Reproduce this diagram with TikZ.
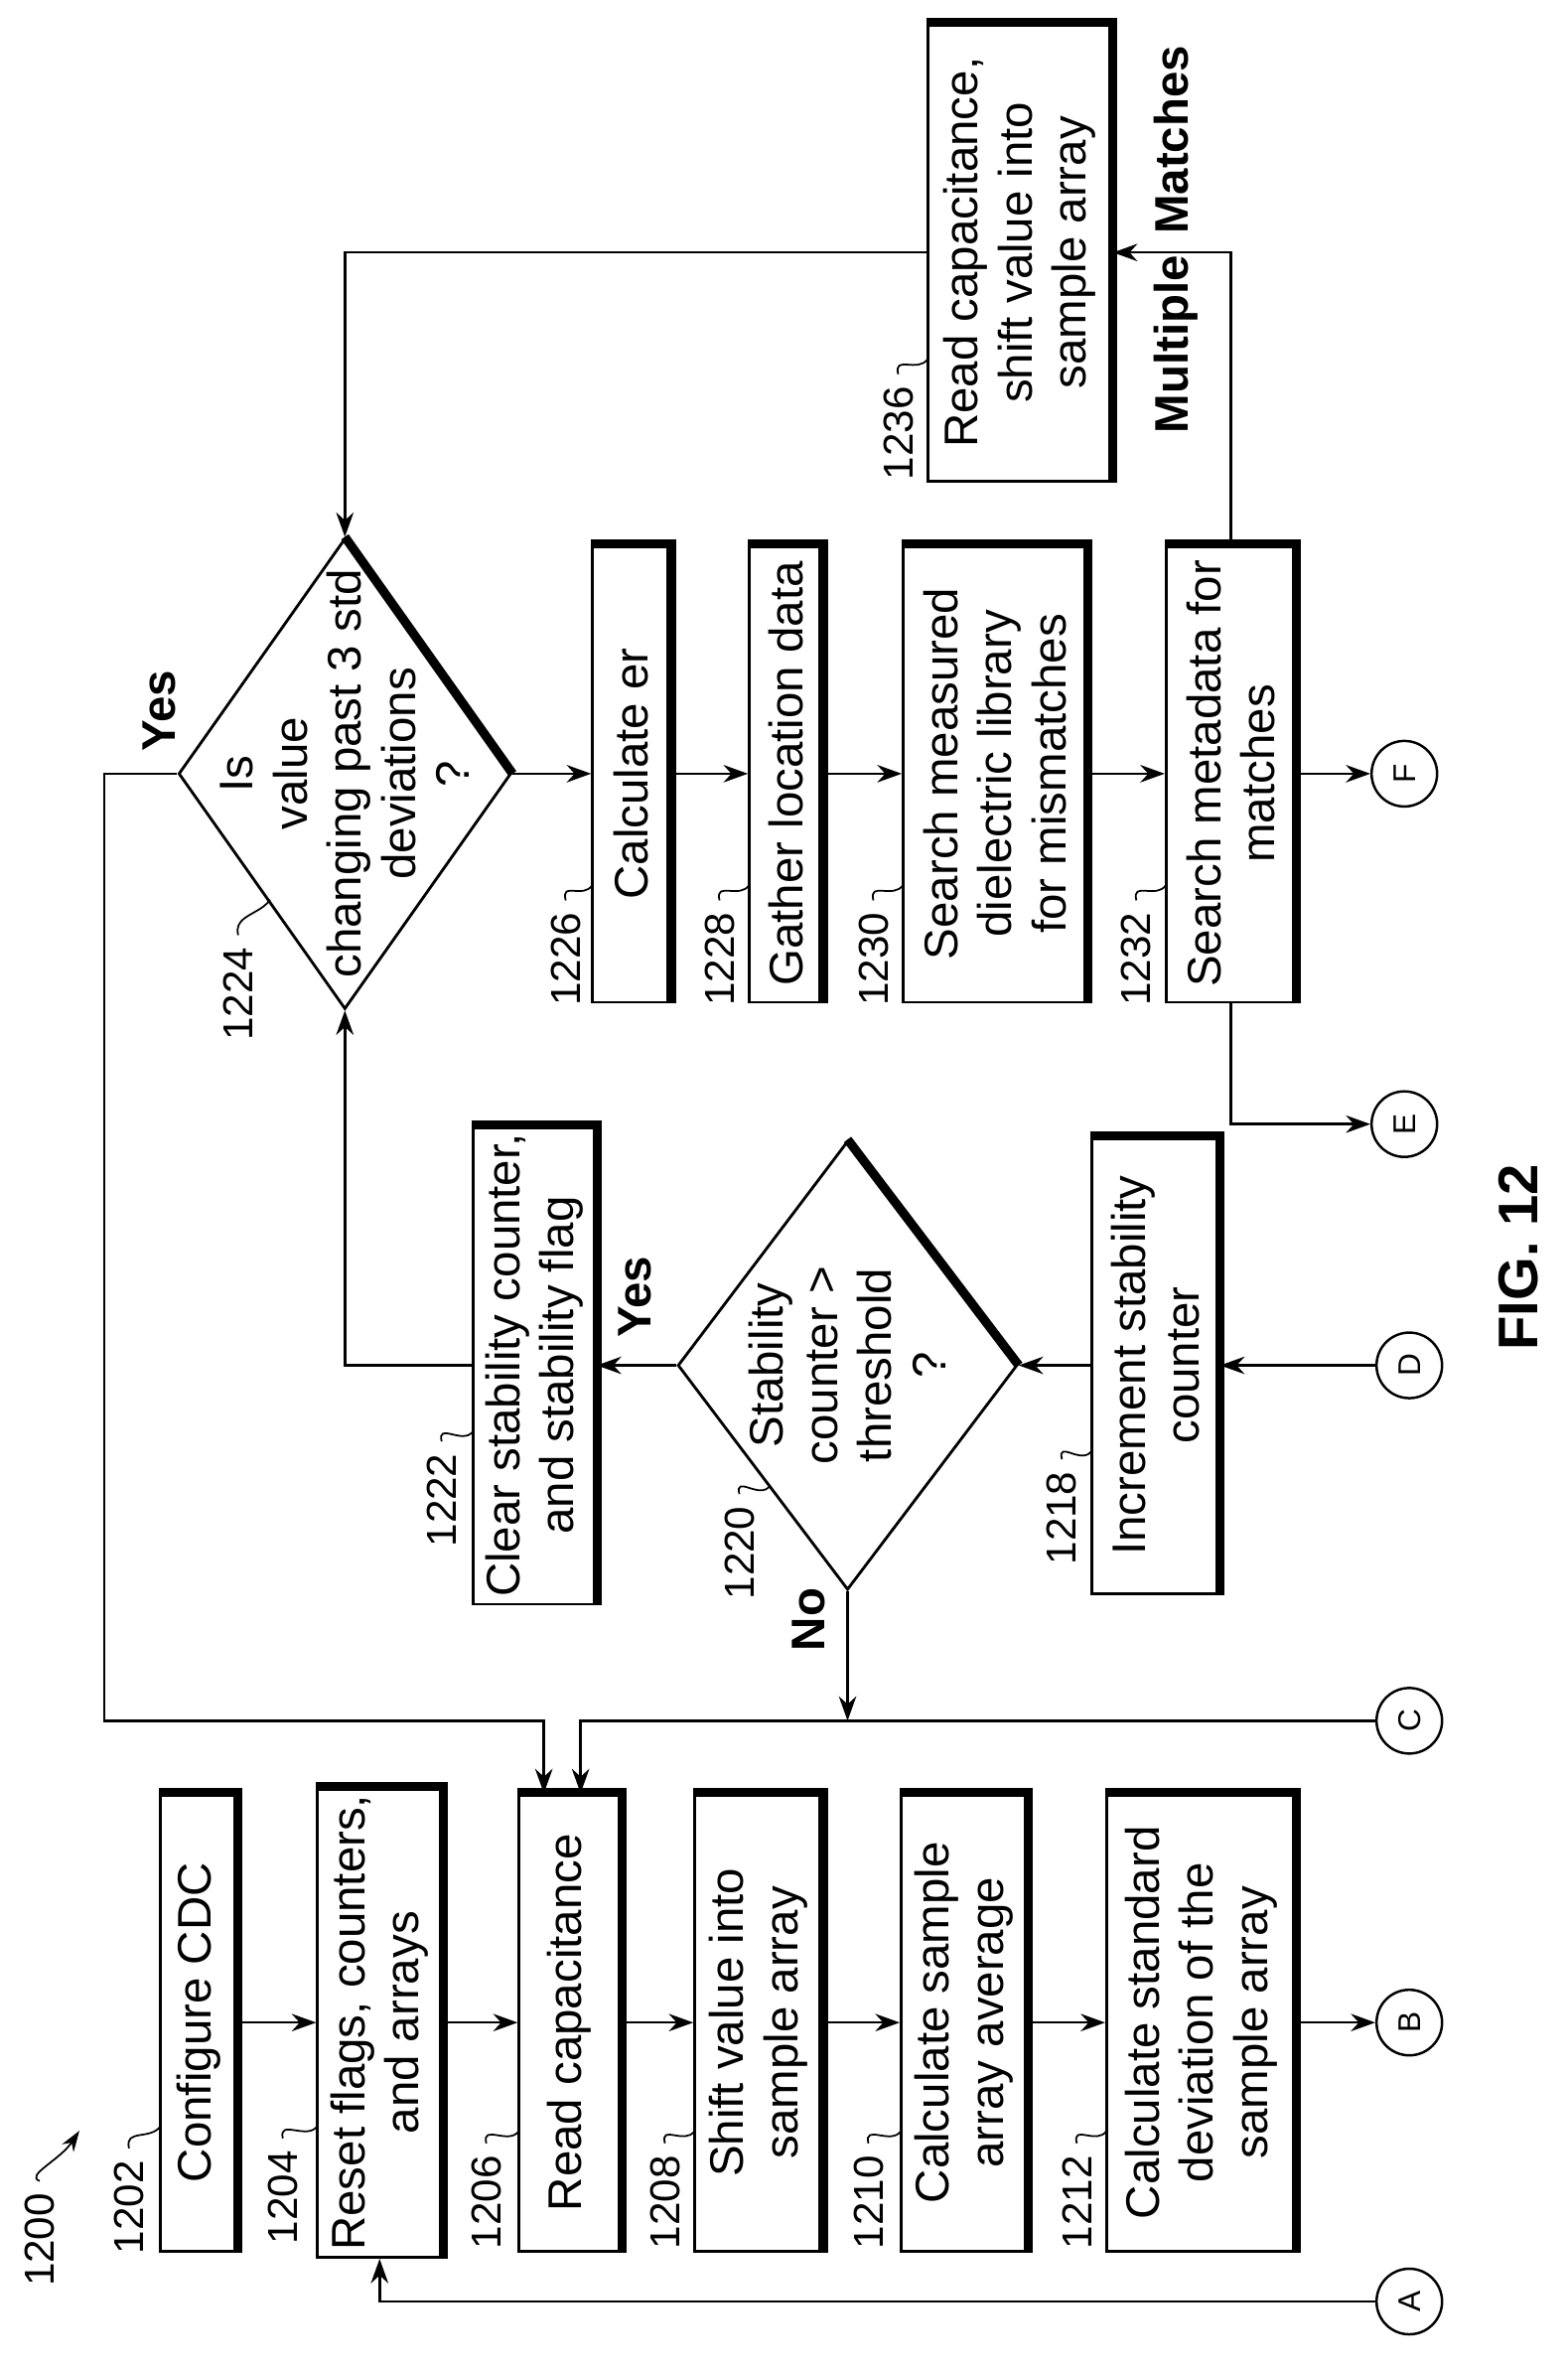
\documentclass[tikz,border=0pt]{standalone}
\usepackage{fontspec}
\setmainfont{Liberation Sans}
\usetikzlibrary{shapes.geometric,arrows.meta}
\begin{document}
\begin{tikzpicture}[
  every node/.style={font=\fontsize{13.5}{15.5}\selectfont},
  box/.style={draw, line width=0.8pt, align=center, inner sep=2pt, minimum width=4.6cm},
  dia/.style={draw, diamond, line width=0.8pt, inner sep=0pt},
  circ/.style={draw, circle, line width=0.7pt, minimum size=0.66cm, inner sep=0pt, font=\fontsize{9}{10}\selectfont},
  lab/.style={font=\fontsize{12}{13}\selectfont},
  bold/.style={font=\fontsize{13.5}{15}\selectfont\bfseries},
  ln/.style={line width=0.7pt},
  arr/.style={ln, -{Stealth[length=7pt,width=5pt]}},
  lead/.style={line width=0.5pt},
  shad/.style={line width=2.6pt}
]
\useasboundingbox (0,0) rectangle (15.78,23.9);
\begin{scope}[x=0.01cm,y=0.01cm,rotate=90,transform shape]
% left column
\node[box,minimum height=0.76cm] (n1202) at (354,-200) {Configure CDC};
\node[box,minimum height=1.25cm] (n1204) at (354,-382.5) {Reset flags, counters,\\and arrays};
\node[box,minimum height=1.02cm] (n1206) at (354,-574) {Read capacitance};
\node[box,minimum height=1.28cm] (n1208) at (354,-764) {Shift value into\\sample array};
\node[box,minimum height=1.27cm] (n1210) at (354,-971.5) {Calculate sample\\array average};
\node[box,minimum height=1.9cm] (n1212) at (354,-1210) {Calculate standard\\deviation of the\\sample array};
% connectors circles
\node[circ] (A) at (73,-1420) {A};
\node[circ] (B) at (354,-1420) {B};
\node[circ] (C) at (658,-1420) {C};
\node[circ] (D) at (1016,-1420) {D};
\node[circ] (E) at (1259,-1415) {E};
\node[circ] (F) at (1612,-1415) {F};
% middle
\node[box,minimum height=1.23cm] (n1222) at (1016,-538.5) {Clear stability counter,\\and stability flag};
\node[dia,minimum width=4.52cm,minimum height=3.42cm,label={[align=center,font=\fontsize{13.5}{15.5}\selectfont]center:Stability\\counter >\\threshold\\?}] (d1220) at (1016,-854) {};
\node[box,minimum height=1.28cm] (n1218) at (1016,-1164) {Increment stability\\counter};
% right
\node[dia,minimum width=4.74cm,minimum height=3.35cm,label={[align=center,font=\fontsize{13.5}{15.5}\selectfont]center:Is\\value\\changing past 3 std\\deviations\\?}] (d1224) at (1612,-347.5) {};
\node[box,minimum height=0.78cm] (n1226) at (1612,-636) {Calculate er};
\node[box,minimum height=0.73cm] (n1228) at (1612,-791.5) {Gather location data};
\node[box,minimum height=1.85cm] (n1230) at (1612,-1002.5) {Search measured\\dielectric library\\for mismatches};
\node[box,minimum height=1.3cm] (n1232) at (1612,-1240) {Search metadata for\\matches};
\node[box,minimum height=1.85cm] (n1236) at (2137,-1027.5) {Read capacitance,\\shift value into\\sample array};
% shadows
\foreach \n in {n1202,n1204,n1206,n1208,n1210,n1212,n1222,n1218,n1226,n1228,n1230,n1232,n1236}
  \draw[shad] (\n.south west) -- (\n.south east) -- (\n.north east);
\draw[shad] (d1224.east) -- (d1224.south);
\draw[shad] (d1220.east) -- (d1220.south);
% coordinates
\coordinate (cin) at (585,-585);
\coordinate (yin) at (585,-548);
\coordinate (ycorner) at (658,-105);
\coordinate (noend) at (658,-854);
% flow
\draw[arr] (n1202.south) -- (n1204.north);
\draw[arr] (n1204.south) -- (n1206.north);
\draw[arr] (n1206.south) -- (n1208.north);
\draw[arr] (n1208.south) -- (n1210.north);
\draw[arr] (n1210.south) -- (n1212.north);
\draw[arr] (n1212.south) -- (B.north);
\draw[arr] (A.north) |- (n1204.west);
\draw[arr] (C.north) |- (cin);
\draw[arr] (d1224.north) |- (ycorner) |- (yin);
\draw[arr] (d1220.west) -- (noend);
\draw[arr] (d1220.north) -- (n1222.south);
\draw[arr] (n1222.north) |- (d1224.west);
\draw[arr] (D.north) -- (n1218.south);
\draw[arr] (n1218.north) -- (d1220.south);
\draw[arr] (d1224.south) -- (n1226.north);
\draw[arr] (n1226.south) -- (n1228.north);
\draw[arr] (n1228.south) -- (n1230.north);
\draw[arr] (n1230.south) -- (n1232.north);
\draw[arr] (n1232.south) -- (F.north);
\draw[arr] (n1232.west) -| (E.north);
\draw[arr] (n1232.east) -| (n1236.south);
\draw[arr] (n1236.north) |- (d1224.east);
% branch labels
\node[bold] (yes1) at (1675,-160) {Yes};
\node[bold] (yes2) at (1085,-640) {Yes};
\node[bold] (no1) at (760,-815) {No};
\node[font=\fontsize{13.5}{15}\selectfont\bfseries] (mm) at (2150,-1185) {Multiple\hspace{0.45em}Matches};
% reference labels
\foreach \nm/\lx/\ly/\tx/\ty in {
  1202/168/-130/250/-162, 1204/178/-285/250/-320, 1206/173/-490/245/-523,
  1208/173/-670/245/-700, 1210/173/-875/245/-908, 1212/173/-1085/245/-1115,
  1226/1425/-570/1500/-597, 1228/1425/-725/1500/-755, 1230/1425/-880/1500/-910,
  1232/1425/-1145/1500/-1175, 1236/1955/-905/2030/-935, 1222/880/-445/950/-477,
  1218/862/-1070/930/-1100, 1224/1390/-240/1485/-272, 1220/827/-745/895/-776}
{
  \node[lab] (l\nm) at (\lx,\ly) {\nm};
  \draw[lead] (l\nm.east) .. controls +(20,5) and +(-15,10) .. (\tx,\ty);
}
\node[lab] (l1200) at (135,-40) {1200};
\draw[lead,-{Stealth[length=6pt,width=4pt]}] (l1200.east) .. controls (200,-25) and (215,-60) .. (245,-80);
\node[font=\fontsize{16}{18}\selectfont\bfseries] (fig) at (1125,-1530) {FIG. 12};
\end{scope}
\end{tikzpicture}
\end{document}
